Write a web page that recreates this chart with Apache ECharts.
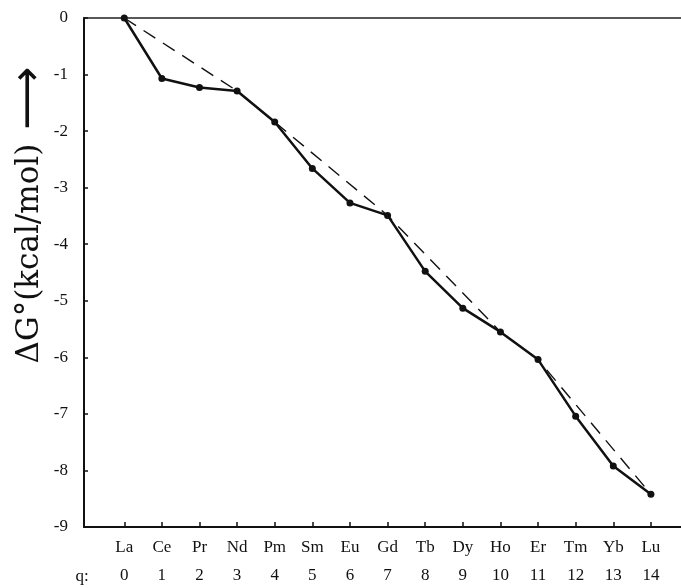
<!DOCTYPE html>
<html><head><meta charset="utf-8">
<script src="https://cdn.jsdelivr.net/npm/echarts@6/dist/echarts.min.js"></script>
<style>html,body{margin:0;padding:0;background:#fff}#c{width:681px;height:588px}</style>
</head><body><div id="c"></div>
<script>
var elements = ['La','Ce','Pr','Nd','Pm','Sm','Eu','Gd','Tb','Dy','Ho','Er','Tm','Yb','Lu'];
var qValues = [0,1,2,3,4,5,6,7,8,9,10,11,12,13,14];
var deltaG = [0,-1.07,-1.23,-1.29,-1.84,-2.66,-3.27,-3.49,-4.48,-5.13,-5.55,-6.04,-7.04,-7.92,-8.42];
var dashedQ = [0,3,7,10,11,14];
var dashedG = [0,-1.29,-3.49,-5.55,-6.04,-8.42];
var yTicks = [0,-1,-2,-3,-4,-5,-6,-7,-8,-9];
var yTitleMain = 'ΔG°(kcal/mol)';
var yTitleArrow = ' ⟶';
var qPrefix = 'q:';

var FONT = 'Liberation Serif';
var chart = echarts.init(document.getElementById('c'), null, {renderer:'canvas'});
chart.setOption({
  animation:false,
  backgroundColor:'#fff',
  grid:{left:84, right:0, top:18, bottom:61, containLabel:false},
  xAxis:[{
    type:'value', position:'bottom', min:-1.07, max:14.8,
    axisLine:{show:true, onZero:false, lineStyle:{color:'#111', width:2}},
    axisTick:{show:true, inside:true, length:5, customValues:qValues, lineStyle:{color:'#111', width:1.5}},
    axisLabel:{customValues:qValues, margin:7, color:'#111', fontFamily:FONT,
      formatter:function(v){var i=qValues.indexOf(v); return i<0?'':'{a|'+elements[i]+'}\n{b|'+qValues[i]+'}';},
      rich:{a:{fontSize:17, lineHeight:28, fontFamily:FONT, color:'#111'}, b:{fontSize:17, lineHeight:28, fontFamily:FONT, color:'#111'}}},
    splitLine:{show:false}
  },{
    type:'value', position:'top', min:-1.07, max:14.8,
    axisLine:{show:true, onZero:false, lineStyle:{color:'#222', width:1.5}},
    axisTick:{show:false}, axisLabel:{show:false}, splitLine:{show:false}
  }],
  yAxis:{
    type:'value', position:'left', min:-9, max:0, interval:1,
    axisLine:{show:true, onZero:false, lineStyle:{color:'#111', width:2}},
    axisTick:{show:true, inside:true, length:4, lineStyle:{color:'#111', width:1.5}},
    axisLabel:{margin:16, color:'#111', fontSize:17, fontFamily:FONT,
      formatter:function(v){return yTicks.indexOf(v)<0?'':String(v);}},
    splitLine:{show:false}
  },
  graphic:[
    {type:'text', x:30, y:215, rotation:Math.PI/2, style:{
      text:'{m|'+yTitleMain+'}{r|'+yTitleArrow+'}', fill:'#111', align:'center', verticalAlign:'middle',
      rich:{m:{fontSize:31, fontFamily:'DejaVu Serif', fill:'#111'}, r:{fontSize:44, fontFamily:'DejaVu Sans', fill:'#111'}}}},
    {type:'text', x:82, y:577, style:{text:qPrefix, fontSize:17, fontFamily:FONT, fill:'#111', align:'center', verticalAlign:'middle'}}
  ],
  series:[
    {type:'line', data:dashedQ.map(function(q,i){return [q,dashedG[i]];}), symbol:'none',
     lineStyle:{color:'#111', width:1.4, type:[14,9]}, z:2},
    {type:'line', data:qValues.map(function(q,i){return [q,deltaG[i]];}), symbol:'circle', symbolSize:7,
     lineStyle:{color:'#111', width:2.5}, itemStyle:{color:'#111'}, z:3}
  ]
});
</script></body></html>
